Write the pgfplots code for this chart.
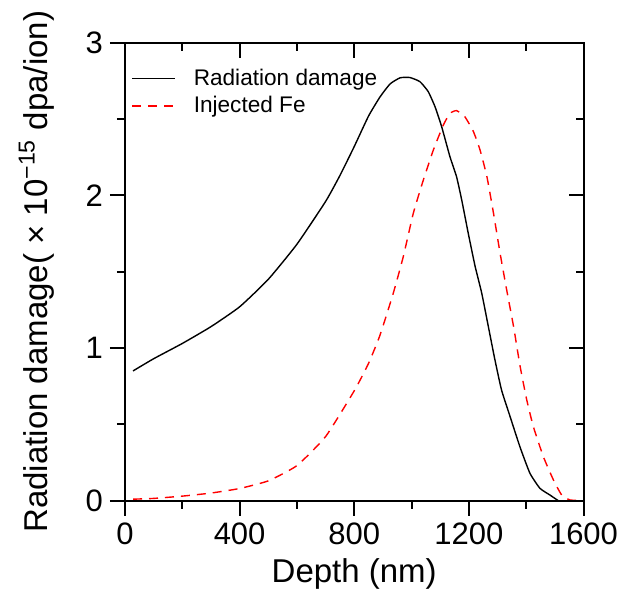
\documentclass[border=0pt]{standalone}
\usepackage{fontspec}
\setmainfont{Liberation Sans}
\usepackage{pgfplots}
\pgfplotsset{compat=1.18}

\pgfplotstableread{
x y
28 0.85
100 0.93
200 1.03
300 1.14
400 1.27
500 1.45
600 1.68
700 1.96
750 2.13
800 2.32
850 2.52
890 2.645
925 2.73
960 2.77
994 2.772
1029 2.745
1058 2.68
1082 2.58
1105 2.45
1134 2.253
1157 2.122
1175 1.97
1198 1.75
1222 1.533
1245 1.358
1268 1.14
1291 0.922
1314 0.725
1344 0.55
1378 0.354
1413 0.18
1448 0.081
1483 0.037
1512 0.0
}\damage

\pgfplotstableread{
x y
28 0.01
100 0.015
200 0.03
300 0.05
400 0.08
500 0.13
600 0.23
700 0.42
800 0.72
850 0.9
890 1.085
936 1.358
971 1.598
1006 1.882
1041 2.10
1076 2.297
1111 2.461
1134 2.537
1157 2.555
1186 2.515
1216 2.417
1239 2.297
1263 2.122
1286 1.882
1309 1.62
1332 1.38
1356 1.14
1379 0.878
1402 0.66
1425 0.485
1460 0.288
1495 0.136
1524 0.037
1553 0.005
1600 0.0
}\iron

\pgfplotsset{
  base/.style={
    scale only axis, width=229.25pt, height=229pt,
    xmin=0, xmax=1600, ymin=0, ymax=3,
    xtick={0,400,...,1600}, ytick={0,1,2,3},
    minor x tick num=1, minor y tick num=1,
    major tick length=7.5pt, minor tick length=4pt,
    axis line style={line width=1pt},
    every tick/.style={black, line width=1pt},
    /pgf/number format/1000 sep={},
    /pgf/number format/assume math mode=true,
    tick label style={font=\fontsize{15.5}{18}\selectfont},
    label style={font=\fontsize{16.5}{19}\selectfont},
  }
}

\begin{document}
\begin{tikzpicture}
\begin{axis}[base, name=ax,
    tick pos=left, tick align=outside,
    xlabel={Depth (nm)},
    ylabel={Radiation damage(~×~10\textsuperscript{−15} dpa/ion)},
    ylabel shift=9pt,
    legend style={at={(rel axis cs:0,1)}, anchor=north west, draw=none, fill=none,
      font=\fontsize{11.3}{13}\selectfont, row sep=0pt, yshift=-9pt,
      nodes={inner xsep=3pt}},
    legend cell align=left,
    legend image code/.code={\draw[#1] (0pt,0pt) -- (21.5pt,0pt);},
]
\addplot[black, line width=0.7pt, smooth, tension=0.3] table {\damage};
\addlegendentry{\hspace{6pt}Radiation damage}
\addplot[red, line width=0.7pt, dash pattern=on 4.5pt off 3.5pt, smooth, tension=0.3] table {\iron};
\addlegendentry{\hspace{6pt}Injected Fe}
\end{axis}
\begin{axis}[base, tick pos=right, tick align=inside, xticklabels={}, yticklabels={}]
\end{axis}
\path (ax.south west) ++(-62.5pt,-46.65pt) rectangle ([xshift=23.75pt,yshift=21.35pt]ax.north east);
\end{tikzpicture}
\end{document}
